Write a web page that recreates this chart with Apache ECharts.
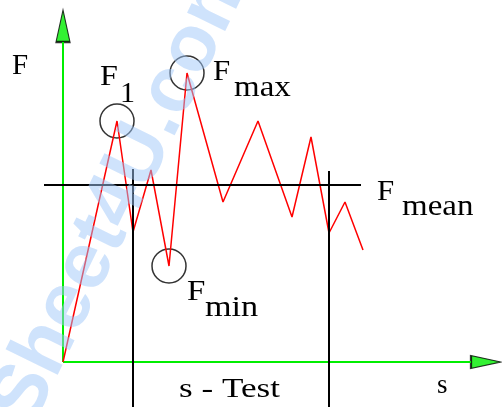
<!DOCTYPE html>
<html>
    <head>
        <meta charset="utf-8">
        <script src="https://cdn.jsdelivr.net/npm/echarts@6/dist/echarts.min.js"></script>
    </head>
    <body>
        <style>
            html, body, #main {
                width: 100%;
                height: 100%;
                margin: 0;
                background: #fff;
            }
        </style>
        <div id='main'></div>
        <script>
            // force signal F over path s (origin = axis crossing)
            var sPts = [0, 54, 70, 88, 106, 124, 160, 195, 229, 248, 266, 282, 300];
            var fPts = [0, 241, 130, 192, 96, 289, 160, 241, 145, 225, 129, 160, 112];
            var fMean = 177;
            var meanRange = [-19, 298];
            var testStart = 70, testEnd = 266;
            var testTop = [193, 191];
            var lineBottom = -45;
            var markIdx = [1, 5, 4];   // F1, Fmax, Fmin
            var sAxisEnd = 408, fAxisEnd = 320;
            var sRange = [-63, 439], fRange = [-45, 362];

            var chart = echarts.init(document.getElementById('main'));
            var serif = 'Liberation Serif';

            var curve = [];
            for (var i = 0; i < sPts.length; i++) curve.push([sPts[i], fPts[i]]);
            var circles = markIdx.map(function (k) { return [sPts[k], fPts[k]]; });

            function txt(x, y, s, size, sx) {
                return {
                    type: 'text', x: x, y: y, z: 10, scaleX: sx || 1,
                    style: {
                        text: s, fill: '#000',
                        fontFamily: serif, fontSize: size || 30,
                        textAlign: 'left', textVerticalAlign: 'middle'
                    }
                };
            }

            function seg(a, b, color, w) {
                return {
                    type: 'line', data: [a, b], symbol: 'none', clip: false,
                    lineStyle: {color: color, width: w}
                };
            }

            var option = {
                animation: false,
                backgroundColor: '#fff',
                grid: {left: 0, right: 0, top: 0, bottom: 0},
                xAxis: {type: 'value', min: sRange[0], max: sRange[1], show: false},
                yAxis: {type: 'value', min: fRange[0], max: fRange[1], show: false},
                graphic: [
                    txt(12, 66.5, 'F', 29),
                    txt(100, 77.5, 'F', 30, 1.07), txt(120, 94, '1', 30, 1.0),
                    txt(213, 72, 'F', 30, 1.03), txt(234, 88.5, 'max', 30, 1.1),
                    txt(187, 292.5, 'F', 30, 1.1), txt(205, 308.5, 'min', 30, 1.14),
                    txt(377, 192, 'F', 30, 1.03), txt(402, 207.5, 'mean', 30, 1.1),
                    txt(179, 390, 's - Test', 27, 1.3),
                    txt(437, 386, 's', 27),
                    {
                        type: 'text', x: 12, y: 418, rotation: 64 * Math.PI / 180, z: 20,
                        style: {
                            text: 'Sheet4U.com', fill: 'rgba(160,200,250,0.5)',
                            fontFamily: 'Liberation Sans', fontWeight: 'bold', fontSize: 80,
                            textAlign: 'left', textVerticalAlign: 'middle'
                        }
                    }
                ],
                series: [
                    seg([0, 0], [0, fAxisEnd], '#0e0', 2),
                    seg([0, 0], [sAxisEnd, 0], '#0e0', 2),
                    {
                        type: 'line', data: curve, symbol: 'none', clip: false,
                        lineStyle: {color: '#f00', width: 1.5}
                    },
                    seg([meanRange[0], fMean], [meanRange[1], fMean], '#000', 2),
                    seg([testStart, testTop[0]], [testStart, lineBottom], '#000', 2),
                    seg([testEnd, testTop[1]], [testEnd, lineBottom], '#000', 2),
                    {
                        type: 'scatter', data: circles, symbol: 'circle', symbolSize: 34, clip: false,
                        itemStyle: {color: 'transparent', borderColor: '#000', borderWidth: 1.5}
                    },
                    {
                        // axis arrow heads
                        type: 'scatter', clip: false, symbol: 'triangle',
                        data: [
                            {value: [0, 336], symbolSize: [14, 32]},
                            {value: [423, 0], symbolSize: [13, 30], symbolRotate: -90}
                        ],
                        itemStyle: {color: '#0e0', borderColor: '#000', borderWidth: 1.5}
                    }
                ]
            };
            chart.setOption(option);
        </script>
    </body>
</html>
